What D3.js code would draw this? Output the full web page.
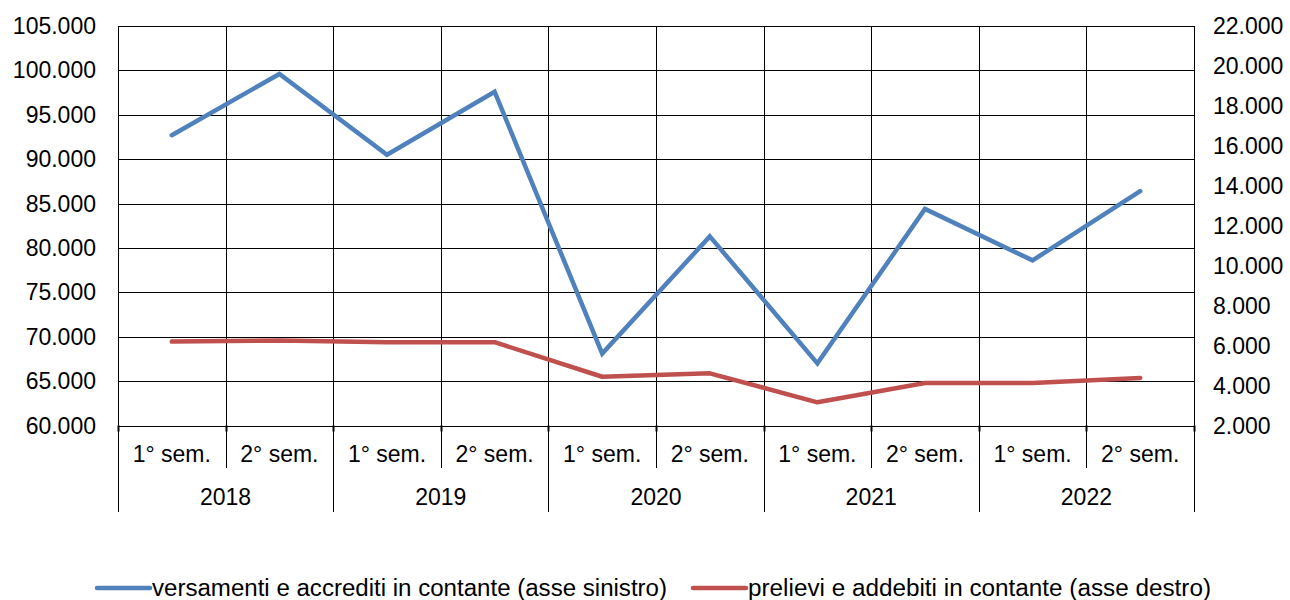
<!DOCTYPE html>
<html>
<head>
<meta charset="utf-8">
<script src="https://cdn.jsdelivr.net/npm/d3@7"></script>
<style>
  body { margin: 0; background: #fff; }
  text { font-family: Arial, "Liberation Sans", sans-serif; fill: #000; }
</style>
</head>
<body>
<svg id="chart" width="1290" height="600"></svg>
<script>
// dati
var years = ["2018", "2019", "2020", "2021", "2022"]
var semesters = ["1° sem.", "2° sem."]
var versamenti = [92700, 99600, 90500, 97600, 68100, 81300, 67000, 84400, 78600, 86400]   // asse sinistro
var prelievi = [6200, 6250, 6170, 6170, 4440, 4610, 3160, 4130, 4130, 4380]             // asse destro
var leftTicks = [60000, 65000, 70000, 75000, 80000, 85000, 90000, 95000, 100000, 105000]
var rightTicks = [2000, 4000, 6000, 8000, 10000, 12000, 14000, 16000, 18000, 20000, 22000]
var seriesNames = ["versamenti e accrediti in contante (asse sinistro)", "prelievi e addebiti in contante (asse destro)"]
var colors = ["#4F81BD", "#C0504D"]

var svg = d3.select("#chart")
var plotLeft = 118, plotRight = 1194, plotTop = 26, plotBottom = 425.5
var fs = "23px"

// categorie: anno + semestre
var cats = []
years.forEach(function(y) {
	semesters.forEach(function(s) { cats.push(y + "|" + s) })
})

var x = d3.scaleBand().domain(cats).range([plotLeft, plotRight])
var yL = d3.scaleLinear().domain([60000, 105000]).range([plotBottom, plotTop])
var yR = d3.scaleLinear().domain([2000, 22000]).range([plotBottom, plotTop])

var it = d3.formatLocale({decimal: ",", thousands: ".", grouping: [3], currency: ["€", ""]})
var fmt = it.format(",.0f")

// griglia orizzontale
svg.append("g").selectAll("line")
	.data(leftTicks)
	.enter().append("line")
	.attr("x1", plotLeft).attr("x2", plotRight)
	.attr("y1", function(d) { return Math.round(yL(d)) + 0.5 })
	.attr("y2", function(d) { return Math.round(yL(d)) + 0.5 })
	.attr("stroke", "#000").attr("stroke-width", 1)

// linee verticali (semestri più corte, anni fino in fondo)
var bounds = cats.map(function(c) { return x(c) }).concat([plotRight])
svg.append("g").selectAll("line")
	.data(bounds)
	.enter().append("line")
	.attr("x1", function(d) { return Math.round(d) + 0.5 })
	.attr("x2", function(d) { return Math.round(d) + 0.5 })
	.attr("y1", plotTop)
	.attr("y2", function(d, i) { return i % 2 == 0 ? 512 : 468 })
	.attr("stroke", "#000").attr("stroke-width", 1)

// piccole tacche sotto l'asse
svg.append("g").selectAll("line")
	.data(bounds)
	.enter().append("line")
	.attr("x1", function(d) { return Math.round(d) + 0.5 })
	.attr("x2", function(d) { return Math.round(d) + 0.5 })
	.attr("y1", plotBottom).attr("y2", plotBottom + 6)
	.attr("stroke", "#000").attr("stroke-width", 2)

// etichette asse sinistro
svg.append("g").selectAll("text")
	.data(leftTicks)
	.enter().append("text")
	.attr("x", 96)
	.attr("y", function(d) { return yL(d) })
	.attr("dy", "0.35em")
	.attr("text-anchor", "end")
	.attr("font-size", fs)
	.text(fmt)

// etichette asse destro
svg.append("g").selectAll("text")
	.data(rightTicks)
	.enter().append("text")
	.attr("x", 1213)
	.attr("y", function(d) { return yR(d) })
	.attr("dy", "0.35em")
	.attr("font-size", fs)
	.text(fmt)

// semestri
svg.append("g").selectAll("text")
	.data(cats)
	.enter().append("text")
	.attr("x", function(d) { return x(d) + x.bandwidth() / 2 })
	.attr("y", 454)
	.attr("dy", "0.35em")
	.attr("text-anchor", "middle")
	.attr("font-size", fs)
	.text(function(d) { return d.split("|")[1] })

// anni
svg.append("g").selectAll("text")
	.data(years)
	.enter().append("text")
	.attr("x", function(d) { return x(d + "|" + semesters[0]) + x.bandwidth() })
	.attr("y", 497)
	.attr("dy", "0.35em")
	.attr("text-anchor", "middle")
	.attr("font-size", fs)
	.text(function(d) { return d })

// linee dati
var lineL = d3.line()
	.x(function(d, i) { return x(cats[i]) + x.bandwidth() / 2 })
	.y(function(d) { return yL(d) })
var lineR = d3.line()
	.x(function(d, i) { return x(cats[i]) + x.bandwidth() / 2 })
	.y(function(d) { return yR(d) })

svg.append("path")
	.attr("d", lineR(prelievi))
	.attr("fill", "none")
	.attr("stroke", colors[1])
	.attr("stroke-width", 4.5)
	.attr("stroke-linejoin", "round")
	.attr("stroke-linecap", "round")

svg.append("path")
	.attr("d", lineL(versamenti))
	.attr("fill", "none")
	.attr("stroke", colors[0])
	.attr("stroke-width", 4.5)
	.attr("stroke-linejoin", "miter")
	.attr("stroke-linecap", "round")

// legenda
var legendX = [97, 693]
var legendW = [515, 463]
var lg = svg.append("g").selectAll("g")
	.data(seriesNames)
	.enter().append("g")
	.attr("transform", function(d, i) { return "translate(" + legendX[i] + ",588)" })
lg.append("line")
	.attr("x1", 0).attr("x2", 53)
	.attr("y1", 0).attr("y2", 0)
	.attr("stroke", function(d, i) { return colors[i] })
	.attr("stroke-width", 4.5)
	.attr("stroke-linecap", "round")
lg.append("text")
	.attr("x", 55)
	.attr("dy", "0.35em")
	.attr("font-size", fs)
	.attr("textLength", function(d, i) { return legendW[i] })
	.attr("lengthAdjust", "spacingAndGlyphs")
	.text(function(d) { return d })
</script>
</body>
</html>
